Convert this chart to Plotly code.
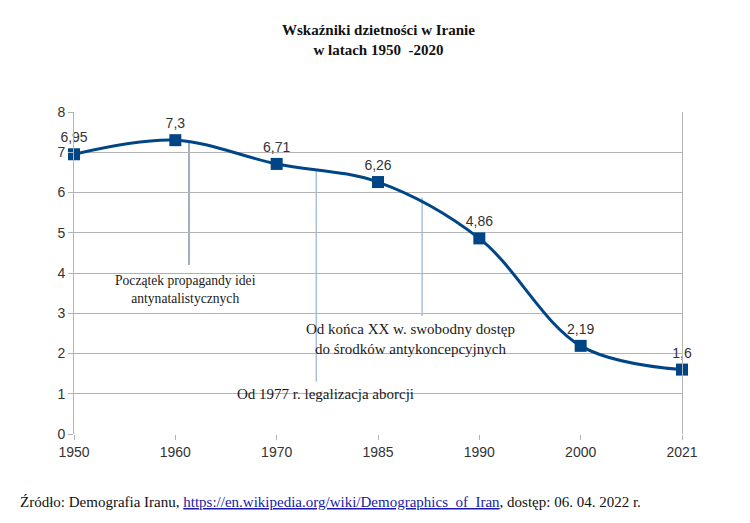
import plotly.graph_objects as go

years = ["1950", "1960", "1970", "1985", "1990", "2000", "2021"]
fertility = [6.95, 7.3, 6.71, 6.26, 4.86, 2.19, 1.6]
y_ticks = [0, 1, 2, 3, 4, 5, 6, 7, 8]

# annotation events: (x position in category units, top y, bottom y, text, color, text x, text y, font size)
events = [
    (1.135, 7.27, 4.2, "Początek propagandy idei<br>antynatalistycznych", "#3c5f8c", 1.1, 3.6, 13.6),
    (2.39, 6.55, 1.3, "Od 1977 r. legalizacja aborcji", "#7fa2cf", 2.48, 1.0, 15),
    (3.435, 5.88, 2.93, "Od końca XX w. swobodny dostęp<br>do środków antykoncepcyjnych", "#7fa2cf", 3.32, 2.35, 15),
]

W, H = 750, 523
ML, MR, MT, MB = 66, 76, 104, 97

xs = list(range(len(years)))
labels = [f"{v:g}".replace(".", ",") for v in fertility]

fig = go.Figure()
fig.add_trace(go.Scatter(
    x=xs, y=fertility, mode="lines+markers+text",
    line=dict(color="#004586", width=3, shape="spline", smoothing=1.0),
    marker=dict(symbol="square", size=12, color="#004586"),
    text=labels, textposition="top center",
    textfont=dict(family="Liberation Sans, Arial", size=14, color="#333333"),
    cliponaxis=False, hoverinfo="skip", showlegend=False,
))

for x, ytop, ybot, txt, col, tx, ty, fs in events:
    fig.add_shape(type="line", x0=x, x1=x, y0=ybot, y1=ytop, xref="x", yref="y",
                  line=dict(color=col, width=1), layer="below")
    fig.add_annotation(x=tx, y=ty, xref="x", yref="y", text=txt, showarrow=False,
                       font=dict(family="Liberation Serif, Times New Roman", size=fs, color="#1a1a1a"),
                       align="center")

fig.add_annotation(
    x=0.5, y=1.0, xref="paper", yref="paper", yanchor="bottom",
    text="<b>Wskaźniki dzietności w Iranie<br>w latach 1950  -2020</b>",
    showarrow=False, yshift=52,
    font=dict(family="Liberation Serif, Times New Roman", size=15, color="#111111"),
)

pw, ph = W - ML - MR, H - MT - MB
fig.add_annotation(
    x=(10 - ML) / pw, y=-(494 - (H - MB)) / ph, xref="paper", yref="paper",
    xanchor="left", yanchor="middle", showarrow=False, align="left",
    text="Źródło: Demografia Iranu, <a href='https://en.wikipedia.org/wiki/Demographics_of_Iran' style='color:#1a1aa6'><u>https://en.wikipedia.org/wiki/Demographics_of_Iran</u></a>, dostęp: 06. 04. 2022 r.",
    font=dict(family="Liberation Serif, Times New Roman", size=15, color="#111111"),
)

fig.update_layout(
    width=W, height=H,
    margin=dict(l=ML, r=MR, t=MT, b=MB),
    paper_bgcolor="white", plot_bgcolor="white",
    xaxis=dict(
        tickmode="array", tickvals=xs, ticktext=years, range=[0, len(years) - 1],
        showgrid=False, zeroline=False, showline=False,
        ticks="outside", ticklen=5, tickcolor="#b3b3b3",
        tickfont=dict(family="Liberation Sans, Arial", size=14, color="#333333"),
    ),
    yaxis=dict(
        tickmode="array", tickvals=y_ticks, range=[0, 8],
        showgrid=True, gridcolor="#b3b3b3", gridwidth=1, zeroline=False,
        showline=True, mirror=True, linecolor="#b3b3b3", linewidth=1,
        ticks="outside", ticklen=5, tickcolor="#b3b3b3",
        tickfont=dict(family="Liberation Sans, Arial", size=14, color="#333333"),
    ),
)

fig.write_html("out.html")
